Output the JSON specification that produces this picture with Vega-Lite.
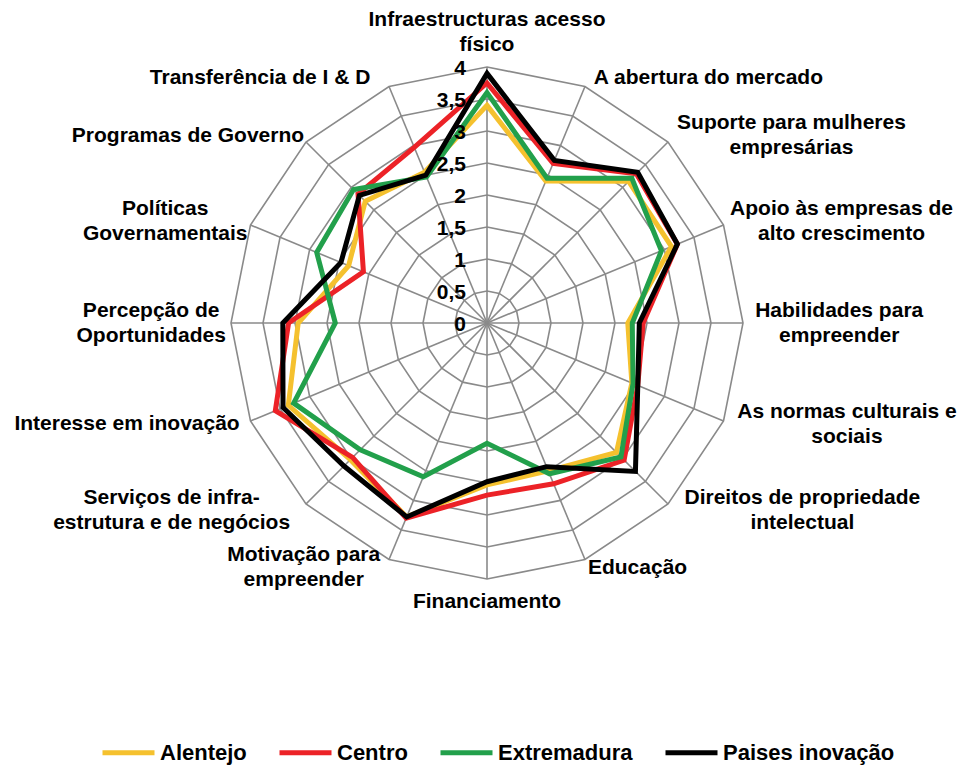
{
  "$schema": "https://vega.github.io/schema/vega-lite/v6.json",
  "width": 960,
  "height": 767,
  "autosize": {"type": "none"},
  "padding": 0,
  "background": "white",
  "config": {"view": {"stroke": null}, "font": "Liberation Sans"},
  "datasets": {
    "axes": [
      {"idx": 0, "label": "Infraestructuras acesso\nfísico"},
      {"idx": 1, "label": "A abertura do mercado"},
      {"idx": 2, "label": "Suporte para mulheres\nempresárias"},
      {"idx": 3, "label": "Apoio às empresas de\nalto crescimento"},
      {"idx": 4, "label": "Habilidades para\nempreender"},
      {"idx": 5, "label": "As normas culturais e\nsociais"},
      {"idx": 6, "label": "Direitos de propriedade\nintelectual"},
      {"idx": 7, "label": "Educação"},
      {"idx": 8, "label": "Financiamento"},
      {"idx": 9, "label": "Motivação para\nempreender"},
      {"idx": 10, "label": "Serviços de infra-\nestrutura e de negócios"},
      {"idx": 11, "label": "Interesse em inovação"},
      {"idx": 12, "label": "Percepção de\nOportunidades"},
      {"idx": 13, "label": "Políticas\nGovernamentais"},
      {"idx": 14, "label": "Programas de Governo"},
      {"idx": 15, "label": "Transferência de I & D"}
    ],
    "levels": [
      {"level": 0}, {"level": 0.5}, {"level": 1}, {"level": 1.5}, {"level": 2},
      {"level": 2.5}, {"level": 3}, {"level": 3.5}, {"level": 4}
    ],
    "scores": [
      {"idx": 0, "series": "Alentejo", "value": 3.4},
      {"idx": 1, "series": "Alentejo", "value": 2.4},
      {"idx": 2, "series": "Alentejo", "value": 3.13},
      {"idx": 3, "series": "Alentejo", "value": 3.12},
      {"idx": 4, "series": "Alentejo", "value": 2.2},
      {"idx": 5, "series": "Alentejo", "value": 2.45},
      {"idx": 6, "series": "Alentejo", "value": 2.86},
      {"idx": 7, "series": "Alentejo", "value": 2.5},
      {"idx": 8, "series": "Alentejo", "value": 2.53},
      {"idx": 9, "series": "Alentejo", "value": 3.28},
      {"idx": 10, "series": "Alentejo", "value": 3.02},
      {"idx": 11, "series": "Alentejo", "value": 3.36},
      {"idx": 12, "series": "Alentejo", "value": 2.95},
      {"idx": 13, "series": "Alentejo", "value": 2.34},
      {"idx": 14, "series": "Alentejo", "value": 2.69},
      {"idx": 15, "series": "Alentejo", "value": 2.55},
      {"idx": 0, "series": "Centro", "value": 3.75},
      {"idx": 1, "series": "Centro", "value": 2.7},
      {"idx": 2, "series": "Centro", "value": 3.3},
      {"idx": 3, "series": "Centro", "value": 3.22},
      {"idx": 4, "series": "Centro", "value": 2.44},
      {"idx": 5, "series": "Centro", "value": 2.55},
      {"idx": 6, "series": "Centro", "value": 3.03},
      {"idx": 7, "series": "Centro", "value": 2.72},
      {"idx": 8, "series": "Centro", "value": 2.69},
      {"idx": 9, "series": "Centro", "value": 3.3},
      {"idx": 10, "series": "Centro", "value": 2.97},
      {"idx": 11, "series": "Centro", "value": 3.58},
      {"idx": 12, "series": "Centro", "value": 3.1},
      {"idx": 13, "series": "Centro", "value": 2.09},
      {"idx": 14, "series": "Centro", "value": 2.85},
      {"idx": 15, "series": "Centro", "value": 2.97},
      {"idx": 0, "series": "Extremadura", "value": 3.6},
      {"idx": 1, "series": "Extremadura", "value": 2.45},
      {"idx": 2, "series": "Extremadura", "value": 3.2},
      {"idx": 3, "series": "Extremadura", "value": 2.95},
      {"idx": 4, "series": "Extremadura", "value": 2.27},
      {"idx": 5, "series": "Extremadura", "value": 2.47},
      {"idx": 6, "series": "Extremadura", "value": 2.96},
      {"idx": 7, "series": "Extremadura", "value": 2.55},
      {"idx": 8, "series": "Extremadura", "value": 1.88},
      {"idx": 9, "series": "Extremadura", "value": 2.6},
      {"idx": 10, "series": "Extremadura", "value": 2.8},
      {"idx": 11, "series": "Extremadura", "value": 3.27},
      {"idx": 12, "series": "Extremadura", "value": 2.37},
      {"idx": 13, "series": "Extremadura", "value": 2.88},
      {"idx": 14, "series": "Extremadura", "value": 2.95},
      {"idx": 15, "series": "Extremadura", "value": 2.47},
      {"idx": 0, "series": "Paises inovação", "value": 3.9},
      {"idx": 1, "series": "Paises inovação", "value": 2.75},
      {"idx": 2, "series": "Paises inovação", "value": 3.33},
      {"idx": 3, "series": "Paises inovação", "value": 3.22},
      {"idx": 4, "series": "Paises inovação", "value": 2.38},
      {"idx": 5, "series": "Paises inovação", "value": 2.55},
      {"idx": 6, "series": "Paises inovação", "value": 3.28},
      {"idx": 7, "series": "Paises inovação", "value": 2.43},
      {"idx": 8, "series": "Paises inovação", "value": 2.48},
      {"idx": 9, "series": "Paises inovação", "value": 3.28},
      {"idx": 10, "series": "Paises inovação", "value": 3.16},
      {"idx": 11, "series": "Paises inovação", "value": 3.45},
      {"idx": 12, "series": "Paises inovação", "value": 3.19},
      {"idx": 13, "series": "Paises inovação", "value": 2.47},
      {"idx": 14, "series": "Paises inovação", "value": 2.82},
      {"idx": 15, "series": "Paises inovação", "value": 2.5}
    ]
  },
  "layer": [
    {
      "data": {"name": "axes"},
      "transform": [
        {"calculate": "[0.5, 1, 1.5, 2, 2.5, 3, 3.5, 4]", "as": "lv"},
        {"flatten": ["lv"]},
        {"calculate": "datum.lv * sin(datum.idx * PI / 8)", "as": "gx"},
        {"calculate": "datum.lv * cos(datum.idx * PI / 8)", "as": "gy"}
      ],
      "mark": {"type": "line", "interpolate": "linear-closed", "color": "#8a8a8a", "strokeWidth": 1.6},
      "encoding": {
        "x": {"field": "gx", "type": "quantitative", "scale": {"domain": [-7.609375, 7.390625], "nice": false, "zero": false}, "axis": null},
        "y": {"field": "gy", "type": "quantitative", "scale": {"domain": [-6.9375, 5.046875], "nice": false, "zero": false}, "axis": null},
        "detail": {"field": "lv", "type": "nominal"},
        "order": {"field": "idx", "type": "quantitative"}
      }
    },
    {
      "data": {"name": "axes"},
      "transform": [
        {"calculate": "[0, 4]", "as": "rr"},
        {"flatten": ["rr"]},
        {"calculate": "datum.rr * sin(datum.idx * PI / 8)", "as": "sx"},
        {"calculate": "datum.rr * cos(datum.idx * PI / 8)", "as": "sy"}
      ],
      "mark": {"type": "line", "color": "#8a8a8a", "strokeWidth": 1.6},
      "encoding": {
        "x": {"field": "sx", "type": "quantitative", "scale": {"domain": [-7.609375, 7.390625], "nice": false, "zero": false}, "axis": null},
        "y": {"field": "sy", "type": "quantitative", "scale": {"domain": [-6.9375, 5.046875], "nice": false, "zero": false}, "axis": null},
        "detail": {"field": "idx", "type": "nominal"},
        "order": {"field": "rr", "type": "quantitative"}
      }
    },
    {
      "data": {"name": "scores"},
      "transform": [
        {"calculate": "datum.value * sin(datum.idx * PI / 8)", "as": "px"},
        {"calculate": "datum.value * cos(datum.idx * PI / 8)", "as": "py"}
      ],
      "mark": {"type": "line", "interpolate": "linear-closed", "strokeWidth": 5, "strokeJoin": "miter", "strokeCap": "butt"},
      "encoding": {
        "x": {"field": "px", "type": "quantitative", "scale": {"domain": [-7.609375, 7.390625], "nice": false, "zero": false}, "axis": null},
        "y": {"field": "py", "type": "quantitative", "scale": {"domain": [-6.9375, 5.046875], "nice": false, "zero": false}, "axis": null},
        "order": {"field": "idx", "type": "quantitative"},
        "color": {
          "field": "series",
          "type": "nominal",
          "scale": {
            "domain": ["Alentejo", "Centro", "Extremadura", "Paises inovação"],
            "range": ["#f5c12e", "#ec2227", "#22a04b", "#000000"]
          },
          "legend": {
            "orient": "none",
            "legendX": 100,
            "legendY": 724,
            "direction": "horizontal",
            "title": null,
            "padding": 0,
            "symbolType": "stroke",
            "symbolSize": 2704,
            "symbolStrokeWidth": 5,
            "labelFont": "Liberation Sans",
            "labelFontSize": 22,
            "labelFontWeight": "bold",
            "labelColor": "#000000",
            "labelOffset": 3,
            "labelLimit": 400,
            "columnPadding": 22
          }
        }
      }
    },
    {
      "data": {"name": "levels"},
      "transform": [
        {"calculate": "replace(toString(datum.level), '.', ',')", "as": "t"},
        {"calculate": "0", "as": "zx"}
      ],
      "mark": {"type": "text", "align": "right", "baseline": "middle", "dx": -21, "dy": 2, "fontSize": 21, "fontWeight": "bold", "color": "#000000"},
      "encoding": {
        "x": {"field": "zx", "type": "quantitative", "scale": {"domain": [-7.609375, 7.390625], "nice": false, "zero": false}, "axis": null},
        "y": {"field": "level", "type": "quantitative", "scale": {"domain": [-6.9375, 5.046875], "nice": false, "zero": false}, "axis": null},
        "text": {"field": "t", "type": "nominal"}
      }
    },
    {
      "data": {"name": "axes"},
      "transform": [
        {"calculate": "sin(datum.idx * PI / 8)", "as": "s"},
        {"calculate": "cos(datum.idx * PI / 8)", "as": "c"},
        {"calculate": "indexof(datum.label, '\\n')", "as": "nl"},
        {"calculate": "datum.nl < 0 ? 1 : 2", "as": "lines"},
        {"calculate": "datum.nl < 0 ? length(datum.label) : max(datum.nl, length(datum.label) - datum.nl - 1)", "as": "maxLen"},
        {"calculate": "abs(datum.s) < 0.2 ? 0 : (datum.s > 0 ? 1 : -1)", "as": "side"},
        {"calculate": "4 * datum.s + (datum.side == 0 ? 0 : datum.side * (datum.maxLen * 5.45 + 9) / 64)", "as": "lx"},
        {"calculate": "4 * datum.c + (datum.side == 0 ? datum.c * (datum.lines * 12.5 + 10) / 64 : datum.c * 9 / 64) + (datum.lines - 1) * 12.5 / 64", "as": "ly"}
      ],
      "mark": {"type": "text", "align": "center", "baseline": "middle", "lineBreak": "\n", "lineHeight": 25, "fontSize": 21, "fontWeight": "bold", "color": "#000000"},
      "encoding": {
        "x": {"field": "lx", "type": "quantitative", "scale": {"domain": [-7.609375, 7.390625], "nice": false, "zero": false}, "axis": null},
        "y": {"field": "ly", "type": "quantitative", "scale": {"domain": [-6.9375, 5.046875], "nice": false, "zero": false}, "axis": null},
        "text": {"field": "label", "type": "nominal"}
      }
    }
  ]
}
